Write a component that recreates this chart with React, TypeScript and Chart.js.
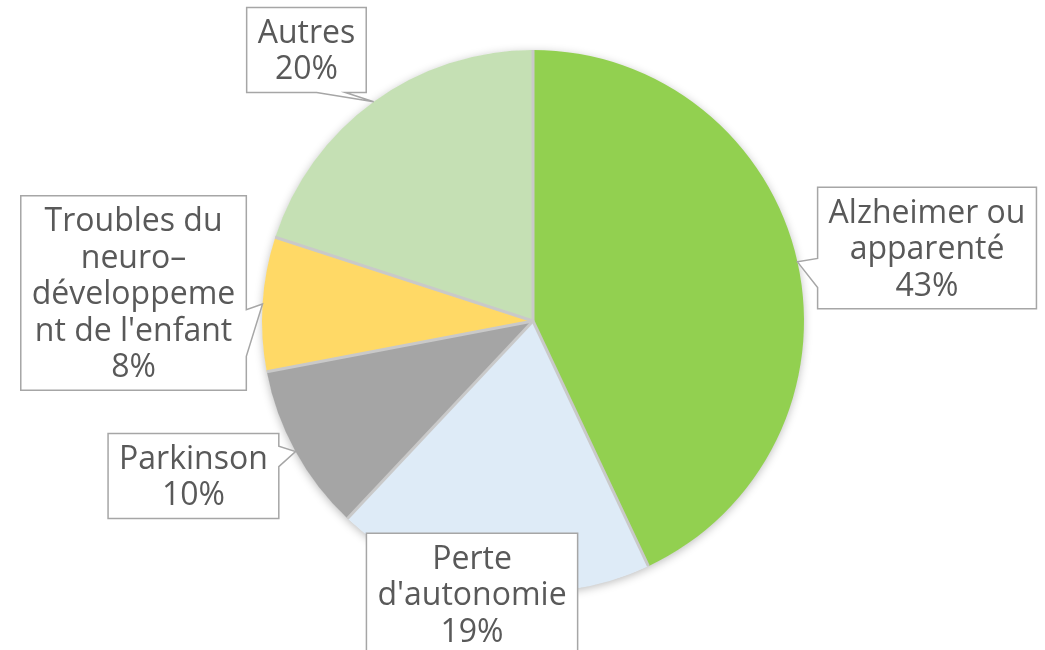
import React, { useEffect, useRef } from "react";
import { Chart, registerables } from "chart.js";

Chart.register(...registerables);

// ---- Data ----
const categories: string[][] = [
  ["Alzheimer ou", "apparenté"],
  ["Perte", "d'autonomie"],
  ["Parkinson"],
  ["Troubles du", "neuro–", "développeme", "nt de l'enfant"],
  ["Autres"],
];
const values: number[] = [43, 19, 10, 8, 20];
const sliceColors: string[] = ["#92D050", "#DEEBF7", "#A5A5A5", "#FFD966", "#C5E0B4"];

// Label box centres, relative to pie centre, in units of the pie radius
const labelPlacement: [number, number][] = [
  [1.454, -0.269],
  [-0.225, 1.007],
  [-1.253, 0.572],
  [-1.474, -0.103],
  [-0.836, -1.0],
];

const FONT = '32px "Open Sans"';
const LINE_H = 36.5;
const PAD_X = 11;
const PAD_Y = 6;
const TEXT_COLOR = "#595959";
const BOX_STROKE = "#A6A6A6";
const SEPARATOR = "#C9C9C9";

const pieDecor = {
  id: "pieDecor",
  beforeDatasetsDraw(chart: any) {
    const meta = chart.getDatasetMeta(0);
    const arc = meta.data[0];
    if (!arc) return;
    const { x, y, outerRadius } = arc.getProps(["x", "y", "outerRadius"], true);
    const ctx = chart.ctx;
    ctx.save();
    ctx.shadowColor = "rgba(0,0,0,0.28)";
    ctx.shadowBlur = 10;
    ctx.shadowOffsetX = 0;
    ctx.shadowOffsetY = 2;
    ctx.fillStyle = "#ffffff";
    ctx.beginPath();
    ctx.arc(x, y, outerRadius - 0.5, 0, Math.PI * 2);
    ctx.fill();
    ctx.restore();
  },
  afterDatasetsDraw(chart: any) {
    const ctx = chart.ctx;
    const meta = chart.getDatasetMeta(0);
    const total = values.reduce((a, b) => a + b, 0);
    // separators
    ctx.save();
    ctx.strokeStyle = SEPARATOR;
    ctx.lineWidth = 3;
    ctx.lineCap = "butt";
    meta.data.forEach((el: any) => {
      const { x, y, outerRadius, startAngle } = el.getProps(
        ["x", "y", "outerRadius", "startAngle"],
        true
      );
      ctx.beginPath();
      ctx.moveTo(x, y);
      ctx.lineTo(x + Math.cos(startAngle) * outerRadius, y + Math.sin(startAngle) * outerRadius);
      ctx.stroke();
    });
    ctx.restore();

    // callout labels
    ctx.save();
    ctx.font = FONT;
    meta.data.forEach((el: any, i: number) => {
      const { x, y, outerRadius, startAngle, endAngle } = el.getProps(
        ["x", "y", "outerRadius", "startAngle", "endAngle"],
        true
      );
      const mid = (startAngle + endAngle) / 2;
      const tx = x + Math.cos(mid) * outerRadius;
      const ty = y + Math.sin(mid) * outerRadius;
      const lines = [...categories[i], Math.round((values[i] / total) * 100) + "%"];
      const tw = Math.max(...lines.map((l) => ctx.measureText(l).width));
      const w = tw + PAD_X * 2;
      const h = lines.length * LINE_H + PAD_Y * 2;
      const cx = x + labelPlacement[i][0] * outerRadius;
      const cy = y + labelPlacement[i][1] * outerRadius;
      const l = cx - w / 2, r = cx + w / 2, t = cy - h / 2, b = cy + h / 2;

      let edge = "none";
      if (!(tx >= l && tx <= r && ty >= t && ty <= b)) {
        const ox = tx < l ? (l - tx) / w : tx > r ? (tx - r) / w : 0;
        const oy = ty < t ? (t - ty) / h : ty > b ? (ty - b) / h : 0;
        if (ox >= oy) edge = tx < l ? "left" : "right";
        else edge = ty < t ? "top" : "bottom";
      }
      const range = (f: number) => (f < 0.5 ? [0.15, 0.39] : [0.585, 0.825]);

      ctx.beginPath();
      ctx.moveTo(l, t);
      if (edge === "top") {
        const [a, c] = range((tx - l) / w);
        ctx.lineTo(l + a * w, t);
        ctx.lineTo(tx, ty);
        ctx.lineTo(l + c * w, t);
      }
      ctx.lineTo(r, t);
      if (edge === "right") {
        const [a, c] = range((ty - t) / h);
        ctx.lineTo(r, t + a * h);
        ctx.lineTo(tx, ty);
        ctx.lineTo(r, t + c * h);
      }
      ctx.lineTo(r, b);
      if (edge === "bottom") {
        const [a, c] = range((tx - l) / w);
        ctx.lineTo(l + c * w, b);
        ctx.lineTo(tx, ty);
        ctx.lineTo(l + a * w, b);
      }
      ctx.lineTo(l, b);
      if (edge === "left") {
        const [a, c] = range((ty - t) / h);
        ctx.lineTo(l, t + c * h);
        ctx.lineTo(tx, ty);
        ctx.lineTo(l, t + a * h);
      }
      ctx.closePath();
      ctx.fillStyle = "#ffffff";
      ctx.fill();
      ctx.strokeStyle = BOX_STROKE;
      ctx.lineWidth = 1.5;
      ctx.lineJoin = "miter";
      ctx.stroke();

      ctx.fillStyle = TEXT_COLOR;
      ctx.textAlign = "center";
      ctx.textBaseline = "middle";
      lines.forEach((line, k) => {
        ctx.fillText(line, cx, cy + (k - (lines.length - 1) / 2) * LINE_H + 2);
      });
    });
    ctx.restore();
  },
};

export default function App() {
  const ref = useRef<HTMLCanvasElement | null>(null);
  useEffect(() => {
    document.body.style.margin = "0";
    if (!ref.current) return;
    const chart = new Chart(ref.current, {
      type: "pie",
      data: {
        labels: categories.map((c) => c.join(" ")),
        datasets: [
          {
            data: values,
            backgroundColor: sliceColors,
            borderWidth: 0,
          },
        ],
      },
      options: {
        responsive: false,
        animation: false,
        rotation: 0,
        layout: { padding: { top: 50, bottom: 58, left: 262, right: 241 } },
        plugins: {
          legend: { display: false },
          tooltip: { enabled: false },
        },
      },
      plugins: [pieDecor],
    });
    if ((document as any).fonts && (document as any).fonts.load) {
      (document as any).fonts.load(FONT).then(() => chart.draw()).catch(() => {});
    }
    return () => chart.destroy();
  }, []);
  return (
    <div style={{ position: "absolute", left: 0, top: 0, width: 1045, height: 650, background: "#ffffff" }}>
      <canvas ref={ref} width={1045} height={650} />
    </div>
  );
}
